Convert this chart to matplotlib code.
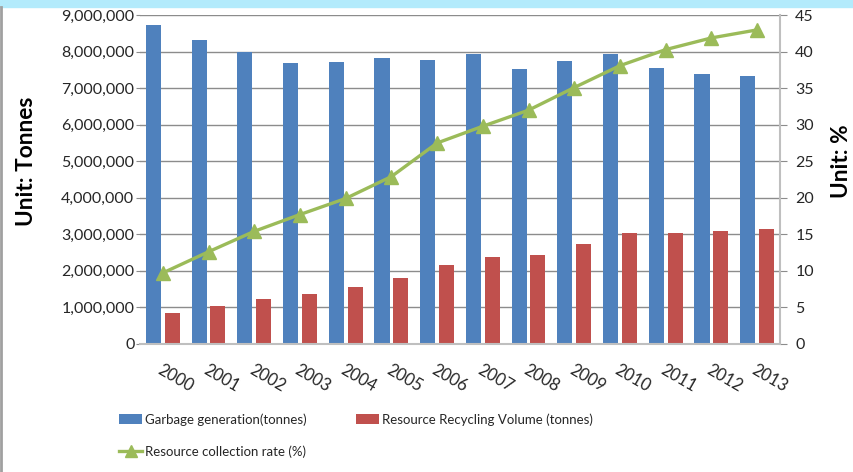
import matplotlib
matplotlib.use("Agg")
import matplotlib.pyplot as plt
from matplotlib.ticker import FuncFormatter, MultipleLocator
from matplotlib.lines import Line2D
from matplotlib.patches import Patch
import numpy as np

plt.rcParams['font.family'] = ['Lato', 'DejaVu Sans']

years = ['2000', '2001', '2002', '2003', '2004', '2005', '2006',
         '2007', '2008', '2009', '2010', '2011', '2012', '2013']
garbage = [8730000, 8330000, 7990000, 7700000, 7730000, 7830000, 7780000,
           7950000, 7540000, 7750000, 7950000, 7560000, 7400000, 7340000]
recycling = [840000, 1040000, 1225000, 1360000, 1550000, 1790000, 2160000,
             2370000, 2420000, 2730000, 3030000, 3030000, 3100000, 3130000]
rate = [9.7, 12.6, 15.4, 17.7, 19.9, 22.9, 27.5,
        29.8, 32.0, 35.1, 38.1, 40.3, 41.9, 43.0]

BLUE = '#4F81BD'
RED = '#C0504D'
GREEN = '#9BBB59'
GRID = '#8C8C8C'
TXT = '#262626'

fig = plt.figure(figsize=(8.54, 4.72), dpi=100)
ax = fig.add_axes([0.1639, 0.2718, 0.7494, 0.6958])
ax2 = ax.twinx()

x = np.arange(len(years))
w = 0.33
ax.bar(x - 0.205, garbage, width=w, color=BLUE, zorder=2)
ax.bar(x + 0.205, recycling, width=w, color=RED, zorder=2)

ax.set_xlim(-0.5, len(years) - 0.5)
ax.set_ylim(0, 9000000)
ax.yaxis.set_major_locator(MultipleLocator(1000000))
ax.yaxis.set_major_formatter(FuncFormatter(lambda v, p: f"{int(v):,}"))
ax.grid(axis='y', color=GRID, linewidth=1, zorder=0)
ax.set_axisbelow(True)

ax2.plot(x, rate, color=GREEN, linewidth=2.4, marker='^', markersize=10,
         markerfacecolor=GREEN, markeredgecolor=GREEN, zorder=5)
ax2.set_ylim(0, 45)
ax2.yaxis.set_major_locator(MultipleLocator(5))

for s in ['top', 'left']:
    ax.spines[s].set_visible(False)
    ax2.spines[s].set_visible(False)
ax.spines['right'].set_visible(False)
ax2.spines['bottom'].set_visible(False)
ax.spines['bottom'].set_color('#BFBFBF')
ax.spines['bottom'].set_linewidth(1.5)
ax2.spines['right'].set_color('#BFBFBF')
ax2.spines['right'].set_linewidth(1.5)

ax.tick_params(axis='y', length=3, color=GRID, labelsize=11.5, labelcolor=TXT, pad=1)
ax2.tick_params(axis='y', length=5, color=GRID, labelsize=11.5, labelcolor=TXT, pad=6)
ax.tick_params(axis='x', length=0, labelsize=12, labelcolor=TXT, pad=13)
ax.set_xticks(x)
ax.set_xticklabels(years, rotation=-30, ha='left', va='top', rotation_mode='anchor')

ax.set_ylabel('Unit: Tonnes', fontsize=16.3, fontweight='bold', color='black')
ax.yaxis.set_label_coords(-0.161, 0.556)
ax2.set_ylabel('Unit: %', fontsize=16.3, fontweight='bold', color='black')
ax2.yaxis.set_label_coords(1.080, 0.556)

handles = [Patch(facecolor=BLUE, label='Garbage generation(tonnes)'),
           Line2D([0], [0], color=GREEN, linewidth=2.4, marker='^', markersize=8,
                  label='Resource collection rate (%)'),
           Patch(facecolor=RED, label='Resource Recycling Volume (tonnes)')]
fig.legend(handles=handles, ncol=2, loc='upper left', bbox_to_anchor=(119 / 854, 1 - 413 / 472),
           frameon=False, fontsize=9.5, handlelength=1.75, handletextpad=0.23,
           columnspacing=3.7, labelspacing=1.48, labelcolor=TXT,
           borderpad=0, borderaxespad=0)

# decorative frame elements
fig.patches.append(plt.Rectangle((0, 1 - 7 / 472), 1, 7 / 472, transform=fig.transFigure,
                                 color='#B3EBFC', zorder=0))
fig.add_artist(Line2D([1 / 854, 1 / 854], [0, 1 - 7 / 472], transform=fig.transFigure,
                      color='#A0A0A0', linewidth=2))

fig.savefig('out.png', dpi=100)
